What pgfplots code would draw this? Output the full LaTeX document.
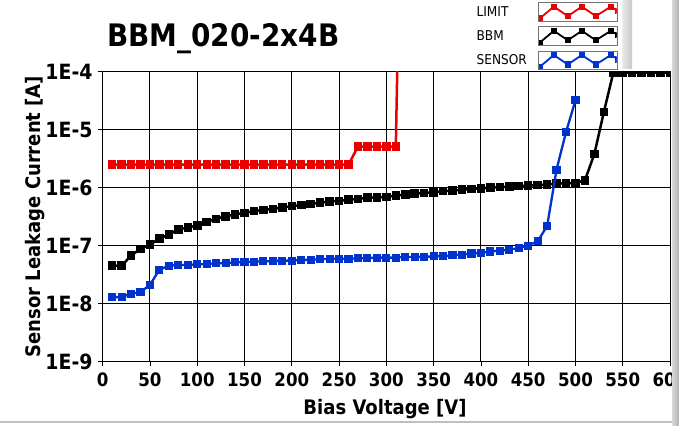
\documentclass[border=0pt]{standalone}
\usepackage{fontspec}
\setmainfont{DejaVu Sans}[FakeStretch=0.9]
\usepackage{pgfplots}
\pgfplotsset{compat=1.18}
\definecolor{limitred}{RGB}{235,0,0}
\definecolor{sensorblue}{RGB}{0,51,204}
\begin{document}
\begin{tikzpicture}[x=1bp,y=1bp]
\useasboundingbox (0,0) rectangle (679,425);
\fill[white] (0,0) rectangle (679,425);
\begin{axis}[
  at={(102.7bp,63.5bp)}, anchor=south west,
  width=567.3bp, height=289.8bp, scale only axis,
  xmin=0, xmax=600, ymode=log, log basis y=10, ymin=1e-9, ymax=1e-4,
  xtick={0,50,...,600},
  xticklabels={0,50,100,150,200,250,300,350,400,450,500,550,600},
  ytick={1e-9,1e-8,1e-7,1e-6,1e-5,1e-4},
  yticklabels={1E-9,1E-8,1E-7,1E-6,1E-5,1E-4},
  yminorticks=false, xminorticks=false,
  grid=major, major grid style={black, line width=1bp},
  axis line style={black, line width=0.8bp},
  tick style={black, line width=0.8bp},
  tick align=outside, tick pos=left, major tick length=5bp,
  xticklabel style={font=\bfseries\fontsize{18.5bp}{20bp}\selectfont, inner sep=0pt, yshift=-6bp},
  yticklabel style={font=\bfseries\fontsize{21bp}{23bp}\selectfont, inner sep=0pt, xshift=-5bp},
  xlabel={Bias Voltage [V]},
  ylabel={Sensor Leakage Current [A]},
  xlabel style={font=\bfseries\fontsize{20bp}{22bp}\selectfont, at={(axis description cs:0.4976,-0.164)}, anchor=center},
  ylabel style={font=\bfseries\fontsize{20bp}{22bp}\selectfont, at={(axis description cs:-0.119,0.5)}, anchor=center},
  clip marker paths=true,
  legend plot pos=right,
  legend cell align=left,
  legend style={at={(axis description cs:0.908,1.2405)}, anchor=north east, draw=none, fill=none,
    inner sep=0pt, row sep=4.6bp, column sep=0bp,
    nodes={inner sep=0pt, font=\fontsize{13.5bp}{15bp}\selectfont},
    /tikz/every odd column/.append style={text width=61bp}},
  legend image code/.code={
    \path[draw=none, fill=white] (0bp,-9.3bp) rectangle (79bp,9.3bp);
    \begin{scope}
    \path[draw=none, fill=none, clip] (0.6bp,-8.7bp) rectangle (78.4bp,8.7bp);
    \draw[#1, line width=1.8bp, mark size=2.2bp] plot coordinates {(1.7bp,-6.4bp) (15.7bp,5.4bp) (29.7bp,-4.1bp) (43.7bp,5.4bp) (57.7bp,-4.1bp) (72.7bp,5.4bp) (80bp,1bp)};
    \end{scope}
    \path[draw=black!55, line width=1bp, fill=none] (0bp,-9.3bp) rectangle (79bp,9.3bp);
  },
]
\addplot[limitred, line width=2.5bp, mark=square*, mark size=2.9bp] coordinates {
(10,2.5e-6)(20,2.5e-6)(30,2.5e-6)(40,2.5e-6)(50,2.5e-6)(60,2.5e-6)(70,2.5e-6)(80,2.5e-6)(90,2.5e-6)(100,2.5e-6)
(110,2.5e-6)(120,2.5e-6)(130,2.5e-6)(140,2.5e-6)(150,2.5e-6)(160,2.5e-6)(170,2.5e-6)(180,2.5e-6)(190,2.5e-6)(200,2.5e-6)
(210,2.5e-6)(220,2.5e-6)(230,2.5e-6)(240,2.5e-6)(250,2.5e-6)(260,2.5e-6)
(270,5.1e-6)(280,5.1e-6)(290,5.1e-6)(300,5.1e-6)(310,5.1e-6)(313,2e-3)};
\addlegendentry{LIMIT}
\addplot[black, line width=2.5bp, mark=square*, mark size=3bp] coordinates {
(10,4.5e-8)(20,4.5e-8)(30,6.7e-8)(40,8.8e-8)(50,1.04e-7)(60,1.32e-7)(70,1.55e-7)(80,1.89e-7)(90,2.05e-7)(100,2.22e-7)
(110,2.57e-7)(120,2.9e-7)(130,3.2e-7)(140,3.44e-7)(150,3.68e-7)(160,3.93e-7)(170,4.14e-7)(180,4.3e-7)(190,4.54e-7)(200,4.79e-7)
(210,4.98e-7)(220,5.25e-7)(230,5.5e-7)(240,5.77e-7)(250,5.9e-7)(260,6.2e-7)(270,6.4e-7)(280,6.7e-7)(290,6.8e-7)(300,6.9e-7)
(310,7.3e-7)(320,7.6e-7)(330,7.9e-7)(340,8.1e-7)(350,8.3e-7)(360,8.7e-7)(370,8.9e-7)(380,9.2e-7)(390,9.5e-7)(400,9.7e-7)
(410,1.0e-6)(420,1.02e-6)(430,1.04e-6)(440,1.07e-6)(450,1.08e-6)(460,1.11e-6)(470,1.13e-6)(480,1.17e-6)(490,1.2e-6)(500,1.2e-6)
(510,1.34e-6)(520,3.8e-6)(530,2.0e-5)(540,9.6e-5)(550,9.6e-5)(560,9.6e-5)(570,9.6e-5)(580,9.6e-5)(590,9.6e-5)(600,9.6e-5)};
\addlegendentry{BBM}
\addplot[sensorblue, line width=2.3bp, mark=square*, mark size=2.9bp] coordinates {
(10,1.29e-8)(20,1.29e-8)(30,1.48e-8)(40,1.58e-8)(50,2.1e-8)(60,3.85e-8)(70,4.5e-8)(80,4.63e-8)(90,4.63e-8)(100,4.75e-8)
(110,4.8e-8)(120,4.95e-8)(130,5.0e-8)(140,5.13e-8)(150,5.2e-8)(160,5.3e-8)(170,5.35e-8)(180,5.4e-8)(190,5.5e-8)(200,5.5e-8)
(210,5.65e-8)(220,5.7e-8)(230,5.8e-8)(240,5.95e-8)(250,5.95e-8)(260,5.95e-8)(270,6.0e-8)(280,6.1e-8)(290,6.2e-8)(300,6.2e-8)
(310,6.2e-8)(320,6.37e-8)(330,6.37e-8)(340,6.4e-8)(350,6.5e-8)(360,6.55e-8)(370,6.8e-8)(380,7.0e-8)(390,7.3e-8)(400,7.5e-8)
(410,7.9e-8)(420,8.2e-8)(430,8.5e-8)(440,9.0e-8)(450,1.0e-7)(460,1.19e-7)(470,2.16e-7)(480,2.05e-6)(490,9.06e-6)(500,3.2e-5)};
\addlegendentry{SENSOR}
\end{axis}
\node[anchor=base west, font=\bfseries\fontsize{31bp}{34bp}\selectfont, inner sep=0pt] at (107,379) {BBM\_020-2x4B};
\shade[left color=black!8, right color=black!22] (622,357) rectangle (632,425);
\shade[left color=black!15, right color=black!30] (672,0) rectangle (679,425);
\fill[black!25] (0,2) rectangle (672,4);
\end{tikzpicture}
\end{document}
